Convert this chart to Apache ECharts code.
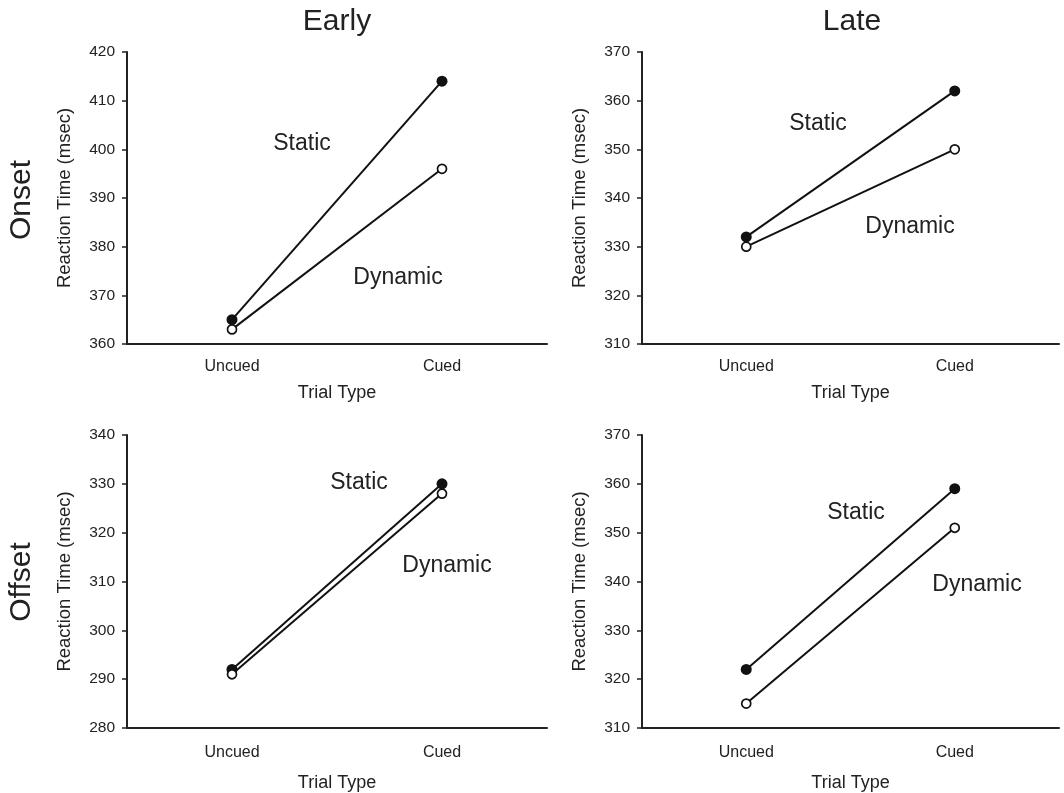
<!DOCTYPE html>
<html>
<head>
<meta charset="utf-8">
<script src="https://cdn.jsdelivr.net/npm/echarts@6/dist/echarts.min.js"></script>
<style>html,body{margin:0;padding:0;background:#fff}#c{width:1064px;height:793px}</style>
</head>
<body>
<div id="c"></div>
<script>
// ---- data ----
var categories = ['Uncued', 'Cued'];
var onsetEarlyStatic = [365, 414];
var onsetEarlyDynamic = [363, 396];
var onsetLateStatic = [332, 362];
var onsetLateDynamic = [330, 350];
var offsetEarlyStatic = [292, 330];
var offsetEarlyDynamic = [291, 328];
var offsetLateStatic = [322, 359];
var offsetLateDynamic = [315, 351];
var yRanges = [[360, 420], [310, 370], [280, 340], [310, 370]];
var columnTitles = ['Early', 'Late'];
var rowTitles = ['Onset', 'Offset'];
var yName = 'Reaction Time (msec)';
var xName = 'Trial Type';

var FONT = '"Liberation Sans", Arial, sans-serif';
var TXT = '#222';
var grids = [
  {left: 127, top: 52, width: 420, height: 292},
  {left: 642, top: 52, width: 417, height: 292},
  {left: 127, top: 435, width: 420, height: 293},
  {left: 642, top: 435, width: 417, height: 293}
];
var xNameGaps = [40, 40, 46, 46];
var xLabelMargins = [15, 15, 17, 17];

var xAxes = [], yAxes = [];
for (var i = 0; i < 4; i++) {
  xAxes.push({
    type: 'category', gridIndex: i, data: categories, boundaryGap: true,
    name: xName, nameLocation: 'middle', nameGap: xNameGaps[i],
    nameTextStyle: {fontFamily: FONT, fontSize: 18, color: TXT},
    axisLine: {lineStyle: {color: '#222', width: 2}},
    axisTick: {alignWithLabel: true, length: 5, lineStyle: {color: '#222', width: 1.5}},
    axisLabel: {fontFamily: FONT, fontSize: 16, color: TXT, margin: xLabelMargins[i]},
    splitLine: {show: false}
  });
  yAxes.push({
    type: 'value', gridIndex: i, min: yRanges[i][0], max: yRanges[i][1], interval: 10,
    name: yName, nameLocation: 'middle', nameGap: 53,
    nameTextStyle: {fontFamily: FONT, fontSize: 18.5, color: TXT},
    axisLine: {show: true, lineStyle: {color: '#222', width: 2}},
    axisTick: {show: true, length: 5, lineStyle: {color: '#222', width: 1.5}},
    axisLabel: {fontFamily: FONT, fontSize: 15.5, color: TXT, margin: 12},
    splitLine: {show: false}
  });
}

function staticSeries(idx, data) {
  return {type: 'line', xAxisIndex: idx, yAxisIndex: idx, data: data, symbol: 'circle', symbolSize: 11,
    lineStyle: {color: '#111', width: 2}, itemStyle: {color: '#111'}, z: 3, silent: true, animation: false};
}
function dynamicSeries(idx, data) {
  return {type: 'line', xAxisIndex: idx, yAxisIndex: idx, data: data, symbol: 'circle', symbolSize: 9,
    lineStyle: {color: '#111', width: 2}, itemStyle: {color: '#fff', borderColor: '#111', borderWidth: 1.7}, z: 4, silent: true, animation: false};
}

function txt(x, y, s, size, rot) {
  return {type: 'text', x: x, y: y, rotation: rot || 0,
    style: {text: s, fontFamily: FONT, fontSize: size, fill: TXT, textAlign: 'center', textVerticalAlign: 'middle'}};
}

var chart = echarts.init(document.getElementById('c'), null, {renderer: 'canvas'});
chart.setOption({
  animation: false,
  backgroundColor: '#fff',
  grid: grids,
  xAxis: xAxes,
  yAxis: yAxes,
  series: [
    staticSeries(0, onsetEarlyStatic), dynamicSeries(0, onsetEarlyDynamic),
    staticSeries(1, onsetLateStatic), dynamicSeries(1, onsetLateDynamic),
    staticSeries(2, offsetEarlyStatic), dynamicSeries(2, offsetEarlyDynamic),
    staticSeries(3, offsetLateStatic), dynamicSeries(3, offsetLateDynamic)
  ],
  graphic: [
    txt(337, 22, columnTitles[0], 30),
    txt(852, 22, columnTitles[1], 30),
    txt(22, 200, rowTitles[0], 30, Math.PI / 2),
    txt(22, 582, rowTitles[1], 30, Math.PI / 2),
    txt(302, 144, 'Static', 23),
    txt(398, 278, 'Dynamic', 23),
    txt(818, 124, 'Static', 23),
    txt(910, 227, 'Dynamic', 23),
    txt(359, 483, 'Static', 23),
    txt(447, 566, 'Dynamic', 23),
    txt(856, 513, 'Static', 23),
    txt(977, 585, 'Dynamic', 23)
  ]
});
</script>
</body>
</html>
